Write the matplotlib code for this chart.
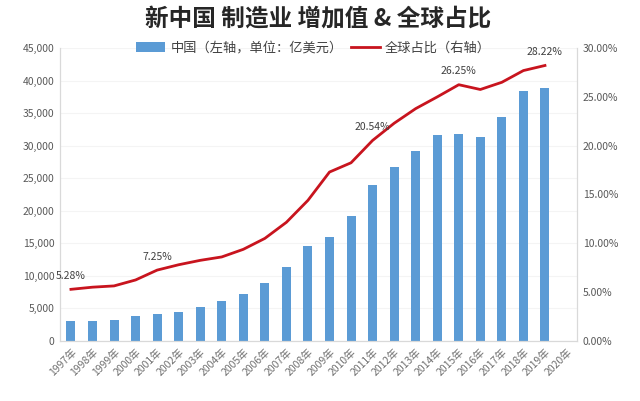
import numpy as np
import matplotlib
matplotlib.use('Agg')
import matplotlib.pyplot as plt
from matplotlib.ticker import FuncFormatter

plt.rcParams['font.family'] = ['Noto Sans CJK SC', 'DejaVu Sans']

# Data
years = [f'{y}年' for y in range(1997, 2021)]
value_added = [3060, 3100, 3280, 3790, 4100, 4450, 5215, 6135, 7270, 8900,
               11300, 14630, 15950, 19130, 24030, 26800, 29250, 31700, 31800,
               31400, 34350, 38450, 38800, np.nan]
global_share = [5.28, 5.5, 5.63, 6.24, 7.25, 7.8, 8.25, 8.6, 9.38, 10.5,
                12.15, 14.4, 17.3, 18.25, 20.54, 22.3, 23.8, 25.0, 26.25,
                25.76, 26.5, 27.7, 28.22, np.nan]
labelled = {0: '5.28%', 4: '7.25%', 14: '20.54%', 18: '26.25%', 22: '28.22%'}

bar_color = '#5b9bd5'
line_color = '#c8141e'
tick_color = '#595959'
axis_color = '#d9d9d9'

fig = plt.figure(figsize=(6.4, 4.01), dpi=100)
ax = fig.add_axes([0.094, 0.150, 0.808, 0.730])
x = np.arange(len(years))

bars = ax.bar(x, value_added, width=0.42, color=bar_color, zorder=2,
              label='中国（左轴，单位：亿美元）')
ax.set_ylim(0, 45000)
ax.set_yticks(np.arange(0, 45001, 5000))
ax.yaxis.set_major_formatter(FuncFormatter(lambda v, p: f'{int(v):,}'))
ax.set_xlim(-0.5, len(years) - 0.5)
ax.set_xticks(x)
ax.set_xticklabels(years, rotation=45, ha='right', rotation_mode='anchor')
ax.grid(axis='y', color='#f4f4f4', lw=0.8, zorder=0)

ax2 = ax.twinx()
line, = ax2.plot(x, global_share, color=line_color, lw=2, zorder=3,
                 label='全球占比（右轴）')
ax2.set_ylim(0, 30)
ax2.set_yticks(np.arange(0, 30.01, 5))
ax2.yaxis.set_major_formatter(FuncFormatter(lambda v, p: f'{v:.2f}%'))

for i, txt in labelled.items():
    ax2.annotate(txt, (x[i], global_share[i]), xytext=(0, 6),
                 textcoords='offset points', ha='center', va='bottom',
                 fontsize=7.5, color='#404040')

for a in (ax, ax2):
    a.tick_params(length=0, labelsize=7.5, colors=tick_color, pad=4)
    for s in a.spines.values():
        s.set_color(axis_color)
    a.spines['top'].set_visible(False)
ax.tick_params(axis='x', colors='#707070')

fig.text(0.497, 0.953, '新中国 制造业 增加值 & 全球占比', ha='center', va='center',
         fontsize=17, fontweight='bold', color='#262626')

fig.legend(handles=[bars, line], loc='center', bbox_to_anchor=(0.49, 0.88),
           ncol=2, frameon=False, fontsize=9.5, handlelength=2.2,
           handleheight=0.8, columnspacing=0.6, handletextpad=0.4,
           labelcolor='#404040')

fig.savefig('out.png', dpi=100, facecolor='white')
